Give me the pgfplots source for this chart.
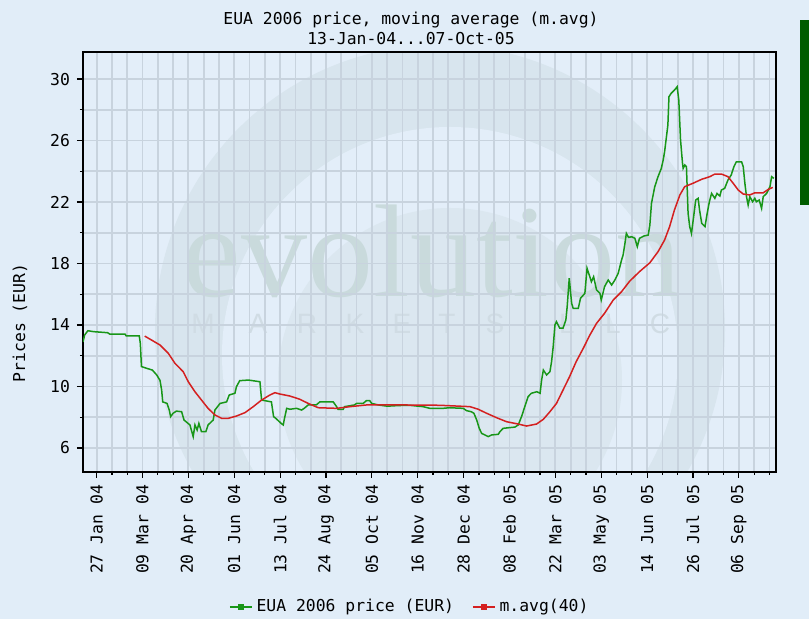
\documentclass[border=0pt]{standalone}
\usepackage{pgfplots}
\pgfplotsset{compat=1.18}
\usepackage{fontspec}
\setmainfont{DejaVu Sans Mono}
\setmonofont{DejaVu Sans Mono}
\newfontfamily\wmserif{Liberation Serif}
\newfontfamily\wmsans{Liberation Sans}
\definecolor{bg}{HTML}{E1EDF8}
\definecolor{plotbg}{HTML}{E3EEF9}
\definecolor{wmring}{HTML}{D8E5EE}
\definecolor{wmdisk}{HTML}{DBE7F0}
\definecolor{wmtext}{HTML}{C9DADC}
\definecolor{wmletters}{HTML}{D0DCE4}
\definecolor{gridc}{HTML}{C8D3DE}
\definecolor{eua}{RGB}{24,150,24}
\definecolor{mavg}{RGB}{212,32,32}
\definecolor{strip}{RGB}{0,92,0}
\newcommand\cf{\fontsize{8.2}{10}\selectfont}
\begin{document}
\begin{tikzpicture}[x=0.5pt,y=0.5pt]
\fill[bg] (0,0) rectangle (809,619);
\fill[plotbg] (83,147) rectangle (776,567);
\fill[strip] (800,414) rectangle (809,599);
\begin{scope}
\clip (83,147) rectangle (776,567);
\fill[wmring] (440,289) circle (285);
\fill[plotbg] (450,264) circle (228);
\fill[wmdisk] (450,239) circle (172);
\node[wmtext, font=\wmserif\fontsize{66}{66}\selectfont, anchor=base, inner sep=0pt, text depth=0pt] at (432,322) {evolution};
\foreach \X/\L in {203/M,258/A,307/R,355/K,402/E,447/T,495/S,567/L,613/L,660/C}
  \node[wmletters, font=\wmsans\fontsize{14}{14}\selectfont, inner sep=0pt] at (\X,295) {\L};
\end{scope}
\node[font=\cf, align=center] at (411,591) {EUA 2006 price, moving average (m.avg)\\13-Jan-04...07-Oct-05};
\begin{axis}[
  at={(41.5pt,73.5pt)}, anchor=south west,
  scale only axis, width=346.5pt, height=210pt,
  xmin=1.5, xmax=636, ymin=4.44, ymax=31.76,
  axis line style={black, line width=0.7pt},
  xtick={14,56,...,602},
  xticklabels={27 Jan 04,09 Mar 04,20 Apr 04,01 Jun 04,13 Jul 04,24 Aug 04,05 Oct 04,16 Nov 04,28 Dec 04,08 Feb 05,22 Mar 05,03 May 05,14 Jun 05,26 Jul 05,06 Sep 05},
  minor xtick={0,14,...,630},
  ytick={6,10,...,30},
  minor ytick={8,12,...,28},
  grid=both,
  major grid style={gridc, line width=0.9pt},
  minor grid style={gridc, line width=0.9pt},
  tick align=outside,
  xtick pos=left, ytick pos=left,
  major tick length=3pt, minor tick length=1.5pt,
  every tick/.style={black, line width=0.6pt},
  /pgf/number format/assume math mode=true,
  tick label style={font=\cf},
  xticklabel style={rotate=90, anchor=east},
  ylabel={Prices (EUR)},
  ylabel style={at={(axis description cs:-0.091,0.355)}, anchor=center, font=\cf},
  legend style={at={(axis description cs:0.473,-0.321)}, anchor=center, draw=none, fill=none, font=\cf, legend columns=2, /tikz/every even column/.append style={column sep=7pt}},
  legend image code/.code={\draw[#1] (0pt,0pt) -- (11pt,0pt); \fill[#1] (4.3pt,-1.1pt) rectangle (6.7pt,1.1pt);},
  clip=true,
]
\addplot[eua, line width=0.75pt] coordinates {
(1.5,12.9) (3,13.35) (6,13.63) (11,13.57) (24,13.5) (26,13.41) (40,13.41) (41,13.3) (53,13.3) (54,12.8) (55,11.3) (60,11.18) (65,11.07) (69,10.75) (72,10.4) (73.5,9.77) (74.5,9.0) (78.5,8.9) (80.5,8.47) (81.7,8.04) (84,8.26) (87,8.4) (91.8,8.36) (94,7.82) (99.4,7.5) (102.4,6.74) (104,7.5) (106,7.17) (107.6,7.6) (110,7.06) (114,7.06) (116,7.5) (120.7,7.82) (122.3,8.47) (127,8.9) (133,9.0) (135.4,9.45) (140.6,9.56) (142,9.99) (145,10.38) (153,10.42) (163.5,10.31) (165,9.12) (174,9.0) (176,8.04) (178,7.93) (183,7.6) (184.8,7.5) (186,7.93) (188,8.58) (191,8.52) (197,8.58) (201.7,8.47) (204,8.58) (207.7,8.8) (215,8.8) (218.4,9.0) (230.6,9.0) (233.7,8.69) (235,8.52) (239.8,8.52) (241,8.69) (250,8.8) (252,8.9) (258,8.9) (261,9.08) (264,9.08) (265.8,8.9) (272,8.8) (280,8.72) (290,8.76) (300,8.78) (313,8.69) (319,8.58) (331,8.58) (337,8.62) (349.6,8.58) (352.7,8.43) (357,8.36) (359.4,8.26) (362,7.82) (364.3,7.28) (366.5,6.95) (369.5,6.85) (372.5,6.74) (375.6,6.85) (381.7,6.89) (383.2,7.06) (386.2,7.28) (394,7.34) (397,7.36) (400,7.5) (403,8.04) (406,8.69) (409,9.34) (412,9.56) (417,9.66) (420,9.56) (421.4,10.42) (423,11.07) (426,10.75) (429,10.96) (430.5,11.61) (432,12.59) (433.6,14.0) (435,14.22) (438,13.79) (441,13.79) (443.6,14.33) (444.8,15.19) (446.7,17.04) (448.9,15.41) (450.3,15.09) (455,15.09) (457,15.74) (461,16.06) (463,17.69) (465,17.25) (467,16.82) (469,17.14) (471.7,16.28) (474.8,16.06) (476,15.63) (479,16.49) (482.4,16.93) (485.5,16.6) (488.5,16.93) (491.5,17.36) (494.6,18.23) (496,18.55) (497.7,19.31) (499,19.96) (501,19.7) (503.8,19.74) (506.8,19.64) (509,19.09) (511,19.64) (515,19.79) (519,19.85) (520.5,20.5) (522,21.92) (525,23.0) (528,23.65) (531,24.19) (532.7,24.73) (534,25.27) (535.7,26.25) (537,27.0) (538,28.85) (540,29.07) (543,29.28) (545.5,29.5) (547,28.63) (548.6,26.03) (550.4,24.52) (551,24.19) (552.5,24.41) (554,24.3) (555.5,21.27) (557,20.4) (558.6,19.96) (560,20.72) (562.5,22.13) (564.7,22.24) (566,21.48) (568,20.61) (571,20.4) (573,21.27) (575,22.02) (577,22.56) (580,22.24) (582,22.56) (584.6,22.39) (586,22.78) (589,22.89) (592,23.43) (595,23.76) (597.5,24.3) (599.7,24.62) (604.5,24.62) (606,24.3) (607.5,23.22) (609,22.35) (610.5,21.8) (612,22.35) (614.6,22.02) (616.6,22.24) (618,22.02) (620.6,22.13) (622.8,21.59) (624.3,22.35) (627.4,22.56) (630.5,23.0) (632,23.65) (634,23.54)
};
\addlegendentry{EUA 2006 price (EUR)}
\addplot[mavg, line width=0.75pt] coordinates {
(58,13.28) (64.3,13.02) (72,12.7) (79.6,12.16) (85.7,11.51) (93.3,10.96) (97.9,10.31) (104,9.66) (110,9.12) (116,8.58) (122.3,8.15) (128.4,7.93) (134.5,7.93) (142,8.08) (149.8,8.3) (157.4,8.69) (165,9.12) (172.7,9.45) (177.2,9.6) (181.8,9.51) (191,9.38) (200,9.17) (207.7,8.9) (216.9,8.62) (233.7,8.58) (246,8.69) (261,8.8) (294.7,8.8) (328,8.78) (355.8,8.69) (363.4,8.52) (371,8.26) (380.2,7.97) (389.4,7.71) (398.5,7.58) (407.7,7.43) (416.8,7.56) (423,7.87) (429,8.36) (435,8.9) (441,9.77) (447,10.64) (453,11.61) (459.5,12.48) (465.6,13.35) (471.7,14.11) (479,14.76) (487,15.63) (494.6,16.17) (502,16.85) (511,17.47) (520.5,18.05) (528,18.77) (534,19.53) (538.6,20.4) (543,21.48) (548,22.46) (552.4,23.0) (560,23.22) (568,23.48) (575.4,23.65) (580,23.82) (586,23.82) (592,23.65) (596.8,23.22) (601.4,22.78) (606,22.52) (612,22.46) (616.6,22.6) (624.3,22.6) (628.9,22.82) (633,22.95)
};
\addlegendentry{m.avg(40)}
\end{axis}
\end{tikzpicture}
\end{document}
